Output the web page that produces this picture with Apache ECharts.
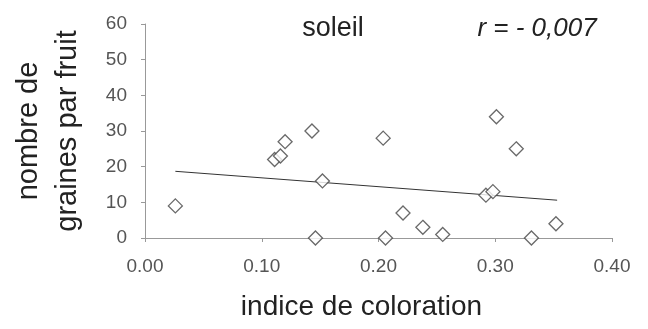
<!DOCTYPE html>
<html>
<head>
<meta charset="utf-8">
<script src="https://cdn.jsdelivr.net/npm/echarts@6/dist/echarts.min.js"></script>
<style>
  html, body { margin: 0; padding: 0; background: #fff; }
  #chart { width: 648px; height: 329px; }
</style>
</head>
<body>
<div id="chart"></div>
<script>
// indice de coloration / nombre de graines par fruit
var indice = [0.026, 0.111, 0.116, 0.120, 0.143, 0.152, 0.146, 0.204, 0.206, 0.221, 0.238, 0.255, 0.292, 0.298, 0.301, 0.318, 0.331, 0.352]
var graines = [9, 22, 23, 27, 30, 16, 0, 28, 0, 7, 3, 1, 12, 13, 34, 25, 0, 4]
// droite de tendance (début, fin)
var trendX = [0.026, 0.353]
var trendY = [18.7, 10.6]
var xTicks = [0, 0.1, 0.2, 0.3, 0.4]
var yTicks = [0, 10, 20, 30, 40, 50, 60]

var chart = echarts.init(document.getElementById('chart'))
var font = 'Liberation Sans, Arial, sans-serif'

chart.setOption({
  animation: false,
  grid: { left: 145, right: 36, top: 24, bottom: 91, outerBoundsMode: 'none' },
  title: [{
    text: 'soleil',
    left: 328, top: 10, textAlign: 'center',
    textStyle: { fontFamily: font, fontSize: 27, fontWeight: 'normal', color: '#222' }
  }, {
    text: 'r = - 0,007',
    left: 532, top: 11, textAlign: 'center',
    textStyle: { fontFamily: font, fontSize: 26, fontStyle: 'italic', fontWeight: 'normal', color: '#222' }
  }],
  xAxis: {
    type: 'value',
    min: xTicks[0], max: xTicks[xTicks.length - 1], interval: 0.1,
    name: 'indice de coloration',
    nameLocation: 'middle', nameGap: 55,
    nameTextStyle: { fontFamily: font, fontSize: 28, color: '#222', padding: [0, 34, 0, 0] },
    axisLine: { lineStyle: { color: '#999' } },
    axisTick: { show: true, length: 4, lineStyle: { color: '#999' } },
    splitLine: { show: false },
    axisLabel: {
      fontFamily: font, fontSize: 19, color: '#555', margin: 19,
      formatter: function (v) { return v.toFixed(2) }
    }
  },
  yAxis: {
    type: 'value',
    min: yTicks[0], max: yTicks[yTicks.length - 1], interval: 10,
    name: 'nombre de\ngraines par fruit',
    nameLocation: 'middle', nameGap: 58, nameRotate: 90,
    nameTextStyle: { fontFamily: font, fontSize: 29, color: '#222', lineHeight: 39 },
    axisLine: { show: true, lineStyle: { color: '#999' } },
    axisTick: { show: true, length: 4, lineStyle: { color: '#999' } },
    splitLine: { show: false },
    axisLabel: { fontFamily: font, fontSize: 19, color: '#555', margin: 18 }
  },
  series: [{
    type: 'line',
    data: trendX.map(function (x, i) { return [x, trendY[i]] }),
    symbol: 'none',
    lineStyle: { color: '#333', width: 1 },
    z: 1
  }, {
    type: 'scatter',
    data: indice.map(function (x, i) { return [x, graines[i]] }),
    symbol: 'diamond',
    symbolSize: 14,
    itemStyle: { color: '#fff', borderColor: '#444', borderWidth: 1.3 },
    z: 2
  }]
})
</script>
</body>
</html>
